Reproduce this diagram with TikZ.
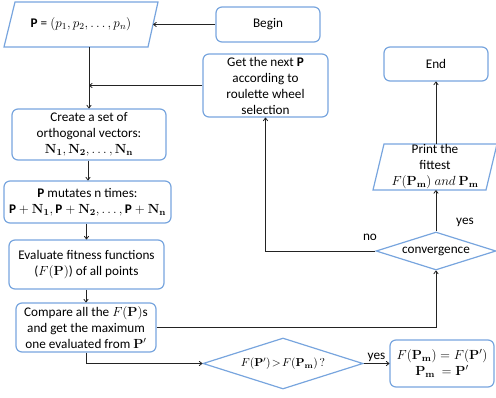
\documentclass[tikz,border=0pt]{standalone}
\usepackage{fix-cm}
\usepackage[no-math]{fontspec}
\setmainfont{Carlito}
\usetikzlibrary{shapes.geometric,arrows.meta}
\definecolor{bord}{RGB}{120,165,222}
\definecolor{lnc}{RGB}{35,35,35}
\newcommand\myfs{\fontsize{13.2}{16}\selectfont}
\newcommand\mysm{\fontsize{11.5}{13}\selectfont}
\begin{document}
\begin{tikzpicture}[x=1pt,y=-1pt,
  box/.style={draw=bord,line width=1.2pt,rounded corners=6pt,align=center,inner sep=0pt,font=\myfs},
  ghost/.style={align=center,inner sep=0pt,font=\myfs},
  para/.style={draw=bord,line width=1.2pt},
  dia/.style={draw=bord,line width=1.2pt,shape=diamond,inner sep=0pt,align=center},
  conn/.style={draw=lnc,line width=0.8pt,-{To[length=3.5pt,width=5pt]}},
  lbl/.style={font=\myfs,inner sep=1pt}]
\useasboundingbox (0,0) rectangle (496,397);
% parallelograms
\draw[para] (4,47) -- (15,2) -- (158,2) -- (148,47) -- cycle;
\node[ghost,minimum width=144pt,minimum height=45pt] (P) at (81,24.5) {\textbf{P} = $(p_1, p_2, \ldots, p_n)$};
\draw[para] (373,190) -- (384,144) -- (497,144) -- (486,190) -- cycle;
\node[ghost,minimum width=113pt,minimum height=46pt] (print) at (435,167) {Print the\\fittest\\$F(\mathbf{P_m})\ and\ \mathbf{P_m}$};
% boxes
\node[box,minimum width=104pt,minimum height=35pt] (begin) at (268,24.5) {Begin};
\node[box,minimum width=125pt,minimum height=63pt] (getnext) at (265.5,85.5) {Get the next \textbf{P}\\according to\\roulette wheel\\selection};
\node[box,minimum width=104pt,minimum height=34pt] (end) at (436,64) {End};
\node[box,minimum width=154pt,minimum height=51pt] (create) at (89,134.5) {Create a set of\\orthogonal vectors:\\$\mathbf{N_1}, \mathbf{N_2}, \ldots, \mathbf{N_n}$};
\node[box,minimum width=167pt,minimum height=42pt] (mutate) at (87.5,202) {\textbf{P} mutates n times:\\$\textbf{P}+\mathbf{N_1}, \textbf{P}+\mathbf{N_2}, \ldots, \textbf{P}+\mathbf{N_n}$};
\node[box,minimum width=155pt,minimum height=49pt] (eval) at (86.5,264.5) {Evaluate fitness functions\\($F(\mathbf{P})$) of all points};
\node[box,minimum width=140pt,minimum height=49pt] (compare) at (86,327.5) {Compare all the $F(\mathbf{P})$s\\and get the maximum\\one evaluated from $\mathbf{P}'$};
\node[box,minimum width=104pt,minimum height=47pt] (result) at (442,363.5) {$F(\mathbf{P_m}) = F(\mathbf{P}')$\\$\mathbf{P_m}\ = \mathbf{P}'$};
% diamonds
\node[dia,font=\myfs,aspect=3.2,minimum width=120pt,minimum height=38pt] (conv) at (436,251) {convergence};
\node[dia,font=\mysm,aspect=3.1,minimum width=160pt,minimum height=51pt] (cmp) at (283,363.5) {$F(\mathbf{P}')\!>\!F(\mathbf{P_m})\,?$};
% connectors
\draw[conn] (begin.west) -- (P.east);
\draw[conn] (P.south -| create.north) -- (create.north);
\draw[conn] (getnext.west) -- (getnext.west -| create.north);
\draw[conn] (create.south -| 88,0) -- (mutate.north -| 88,0);
\draw[conn] (mutate.south -| eval.north) -- (eval.north);
\draw[conn] (eval.south -| compare.north) -- (compare.north);
\draw[conn] (compare.south) -- (compare.south |- cmp.west) -- (cmp.west);
\draw[conn] (cmp.east) -- node[lbl,above] {yes} (result.west);
\draw[conn] (compare.east) -- (compare.east -| conv.south) -- (conv.south);
\draw[conn] (conv.west) -- (conv.west -| getnext.south) -- (getnext.south);
\draw[conn] (conv.north) -- (conv.north |- print.south);
\draw[conn] (end.south |- print.north) -- (end.south);
\node[lbl] (no) at (370,237) {no};
\node[lbl] (yes) at (465,222) {yes};
\end{tikzpicture}
\end{document}
